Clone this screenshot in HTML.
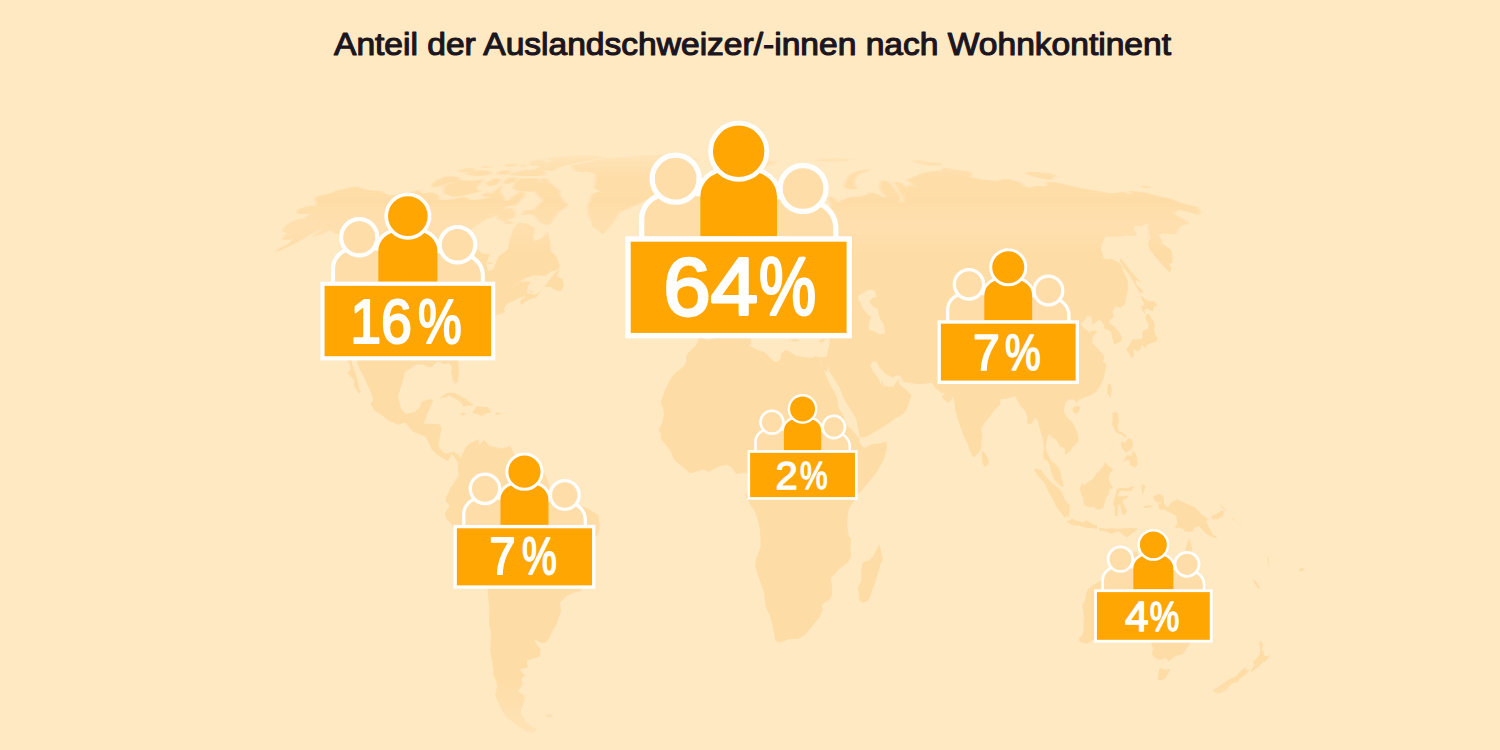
<!DOCTYPE html>
<html lang="de">
<head>
<meta charset="utf-8">
<title>Anteil der Auslandschweizer/-innen nach Wohnkontinent</title>
<style>
  html,body{margin:0;padding:0;}
  body{width:1500px;height:750px;overflow:hidden;background:#FFE9C3;font-family:"Liberation Sans",Arial,sans-serif;}
  svg{display:block;position:absolute;left:0;top:0;}
  .title{font-family:"Liberation Sans",Arial,sans-serif;font-size:30.5px;font-weight:400;fill:#1b1520;stroke:#1b1520;stroke-width:1.1px;stroke-linejoin:round;}
  .pct{font-family:"Liberation Sans",Arial,sans-serif;font-weight:400;fill:#fff;stroke:#fff;stroke-width:2.8px;stroke-linejoin:round;}
</style>
</head>
<body>
<svg width="1500" height="750" viewBox="0 0 1500 750">
  <defs>
    <g id="mapshape" fill="#FEDCA6">
    <path fill-rule="evenodd" d="M700.6,336.6L697.9,334.9L694.6,331.9L689.6,332.7L688.7,325.4L690.5,319.8L691.4,314.6L690.0,307.3L692.8,305.1L701.0,304.7L706.7,304.7L712.1,305.5L713.6,304.7L714.7,299.9L715.1,295.6L714.9,293.0L712.1,288.3L708.3,286.5L704.8,285.3L704.6,283.5L710.0,281.8L712.9,282.7L714.2,277.9L715.3,279.2L719.1,278.8L723.2,276.2L724.5,272.3L727.3,271.4L729.4,270.6L731.1,267.6L732.9,263.7L737.7,261.5L739.6,260.7L743.3,259.8L743.5,255.0L742.7,252.9L742.1,248.6L743.4,246.0L748.8,243.4L748.1,247.7L748.7,249.9L746.9,253.7L746.9,255.9L748.0,257.6L750.1,259.4L753.4,258.5L757.3,256.8L759.6,259.8L765.7,257.2L771.9,257.6L775.4,256.3L778.0,253.7L778.2,252.0L777.5,246.4L778.9,243.8L781.6,243.4L786.0,246.4L786.5,240.4L783.6,239.1L783.2,236.9L786.8,235.6L795.4,235.6L801.0,233.9L796.6,230.4L787.0,232.6L781.8,234.3L779.4,231.7L776.8,229.1L777.1,227.0L776.5,220.1L780.0,216.2L785.6,211.9L782.1,208.4L777.2,209.3L773.1,217.1L768.7,220.5L766.1,223.1L766.0,230.4L769.9,236.1L765.4,242.1L764.9,247.7L762.8,249.9L759.4,252.9L755.7,252.9L754.8,249.9L752.4,243.4L750.3,237.8L748.9,233.9L746.3,237.8L741.7,241.7L739.0,242.1L735.2,237.8L733.9,231.7L733.7,225.7L736.6,222.7L742.8,218.4L746.6,215.3L750.3,211.9L752.1,207.6L757.1,202.1L761.9,197.6L767.5,192.6L773.3,190.8L778.2,188.9L782.9,187.1L788.2,187.9L796.0,190.0L793.8,192.2L802.4,193.4L808.7,194.5L814.4,198.0L821.1,200.0L824.1,204.2L821.5,206.7L811.4,206.3L803.5,204.2L801.7,202.9L808.3,209.7L809.4,211.9L814.6,216.2L818.5,216.6L817.2,212.7L824.3,213.6L823.4,209.7L827.5,205.9L831.5,206.7L831.1,203.3L827.0,196.9L832.5,197.2L835.8,200.0L838.0,203.3L840.9,200.4L848.5,197.6L852.9,196.5L856.7,196.9L862.3,195.7L867.0,195.3L868.0,192.2L877.3,194.1L883.6,197.2L887.5,197.6L883.0,193.4L879.5,187.9L880.4,182.7L882.1,180.0L889.0,181.7L893.7,187.9L899.6,195.3L900.4,204.2L904.0,201.3L902.1,195.3L893.6,181.7L901.2,182.7L907.1,187.9L908.2,184.4L916.5,187.9L906.7,179.4L915.2,176.3L921.1,173.3L930.2,171.6L939.7,170.5L944.6,167.3L955.9,169.7L967.5,171.0L972.8,173.3L970.0,177.2L977.1,178.4L980.5,179.4L997.2,181.0L1003.9,179.1L1011.1,179.4L1021.0,182.7L1023.6,185.7L1031.5,188.6L1033.3,186.1L1040.4,186.1L1047.4,186.1L1045.7,181.7L1059.5,183.0L1074.1,186.8L1081.8,188.2L1105.5,192.6L1110.1,193.4L1123.6,191.9L1133.8,194.9L1128.8,191.1L1143.3,192.2L1156.6,195.7L1168.4,198.0L1181.6,203.3L1198.4,207.1L1201.0,214.0L1198.4,214.5L1190.5,212.7L1178.1,209.7L1175.5,211.9L1173.2,213.2L1185.2,220.5L1189.2,223.5L1180.2,225.7L1175.9,233.9L1164.0,233.5L1158.1,234.3L1161.8,239.9L1161.7,243.0L1171.2,249.9L1172.5,255.9L1172.2,262.8L1169.2,263.7L1171.6,268.9L1170.0,272.7L1163.1,265.8L1155.6,257.2L1149.1,248.6L1148.1,243.0L1150.5,237.8L1148.7,231.3L1148.2,226.6L1148.4,222.7L1141.2,226.1L1135.6,225.7L1133.3,227.0L1136.5,235.6L1125.2,235.6L1118.4,236.5L1111.6,236.5L1105.5,236.5L1102.5,242.1L1100.9,248.6L1103.5,257.2L1100.1,256.3L1106.3,259.4L1111.3,258.5L1119.0,262.4L1122.4,267.1L1122.6,270.1L1127.8,280.9L1127.9,290.4L1126.0,298.2L1124.8,304.7L1120.2,307.7L1116.2,306.4L1113.9,308.6L1112.4,312.0L1114.0,316.3L1109.4,320.6L1109.8,323.2L1114.1,326.3L1119.7,332.7L1121.6,337.0L1121.7,340.9L1118.7,342.2L1114.8,344.4L1113.4,342.2L1112.2,337.0L1110.3,331.0L1104.4,328.4L1104.2,325.4L1101.7,321.5L1099.2,319.8L1093.5,324.1L1092.4,324.5L1091.3,316.8L1087.3,315.9L1084.6,320.2L1080.6,324.1L1084.3,328.4L1086.1,329.3L1088.6,331.9L1094.0,330.6L1097.9,331.0L1093.0,336.6L1091.9,342.7L1097.0,347.8L1103.8,355.6L1104.3,358.6L1102.6,361.6L1106.3,363.4L1105.3,371.6L1103.2,380.2L1099.5,386.7L1096.0,391.9L1088.7,396.2L1081.9,398.3L1077.4,400.9L1077.1,404.8L1075.0,400.1L1072.7,399.6L1069.0,399.2L1065.6,402.6L1063.7,411.7L1066.7,416.9L1073.1,422.9L1077.6,432.9L1078.4,441.1L1074.8,445.4L1072.0,447.5L1070.6,451.0L1064.9,455.3L1065.1,449.3L1063.3,447.5L1059.9,446.7L1057.6,442.3L1056.1,439.8L1051.9,437.6L1048.9,434.1L1047.3,438.0L1045.7,447.1L1047.1,452.7L1049.3,456.2L1051.2,461.3L1053.6,462.6L1056.8,465.7L1059.9,469.5L1061.1,476.0L1062.6,481.2L1063.7,486.4L1061.7,486.8L1057.3,482.9L1054.2,479.5L1052.1,474.3L1050.6,469.1L1049.7,464.8L1047.5,460.9L1043.4,458.3L1043.1,453.6L1043.9,449.3L1043.2,440.6L1040.8,432.0L1039.2,426.4L1038.0,421.2L1035.3,417.7L1033.6,420.8L1030.7,424.2L1027.0,423.4L1027.3,416.9L1026.1,412.6L1020.6,405.7L1016.9,400.1L1015.7,396.2L1011.0,397.5L1006.9,398.8L1003.7,398.8L1000.5,399.6L1000.2,404.8L997.5,407.0L995.2,409.1L990.3,416.0L987.4,419.5L984.2,423.8L981.2,427.7L982.2,435.9L981.2,441.1L981.6,448.0L978.9,452.3L974.1,457.5L972.1,455.7L969.4,449.3L967.8,444.1L964.0,436.7L959.9,425.5L957.7,419.0L955.3,410.4L954.7,404.4L954.0,401.3L952.9,396.6L952.1,398.8L948.7,403.1L943.7,399.2L941.5,396.6L945.4,393.6L940.7,392.7L938.1,390.1L935.7,388.8L933.7,385.4L931.8,382.8L925.7,383.7L918.3,384.1L912.8,383.2L903.6,381.9L900.0,375.9L898.0,375.0L892.5,377.6L885.6,373.7L879.6,367.7L876.4,362.1L872.6,361.6L870.4,365.5L872.9,371.6L876.8,375.9L878.7,378.5L881.2,385.4L882.4,379.8L883.6,386.2L893.0,386.7L895.6,383.2L897.6,380.6L898.7,378.5L899.3,384.1L907.0,390.6L911.4,395.3L908.5,403.9L906.1,410.4L902.1,414.7L894.5,419.0L888.5,423.4L878.6,429.8L865.3,437.2L860.4,437.6L859.3,435.0L858.1,428.5L856.4,419.5L851.0,410.4L844.2,399.6L840.0,388.4L834.3,379.3L829.3,371.6L828.8,365.1L827.3,371.6L827.1,372.4L823.3,369.0L821.1,363.4L819.7,357.3L826.0,356.9L827.4,353.9L827.8,350.9L829.0,346.1L829.7,343.5L829.4,339.2L830.2,334.5L825.2,333.6L819.8,337.0L813.0,333.2L808.1,334.5L805.2,333.6L802.7,332.7L798.9,327.1L800.2,322.8L798.0,321.9L798.1,319.8L797.4,317.2L797.0,316.3L792.4,315.9L791.1,319.8L787.9,317.2L787.1,320.2L788.5,322.8L789.5,324.5L791.8,327.5L791.0,328.8L792.0,329.7L788.8,328.8L789.6,331.4L789.8,335.3L787.6,335.3L786.2,332.7L785.0,333.6L783.6,329.7L784.7,327.5L782.9,327.1L781.5,324.1L779.8,321.9L777.2,317.6L777.0,314.2L776.0,310.7L772.8,308.6L767.5,304.7L763.8,302.1L762.8,298.2L761.3,296.9L759.5,298.6L759.5,295.6L755.0,296.5L755.7,298.6L756.0,302.1L758.8,304.2L761.0,309.0L767.2,311.6L769.5,315.0L772.9,317.2L774.5,319.3L774.3,320.6L770.5,317.6L768.4,321.1L770.7,323.7L768.9,325.0L767.5,328.8L765.9,328.0L766.4,325.4L767.3,323.2L765.6,319.3L763.1,316.8L761.3,316.3L759.4,314.6L755.1,312.0L753.8,310.7L749.8,307.3L749.2,304.7L747.6,302.1L744.9,300.8L742.5,302.9L740.1,303.8L735.9,306.4L734.4,305.5L732.3,305.1L729.9,304.7L727.1,308.1L728.0,309.9L724.6,313.7L721.6,315.0L720.6,316.8L717.8,319.8L716.9,321.9L718.3,325.4L716.1,327.1L714.8,330.1L710.7,334.0L703.8,334.0ZM806.3,314.6L801.3,309.0L802.3,306.0L804.3,301.7L806.9,297.3L809.4,291.7L813.4,293.0L818.2,293.5L815.3,296.9L818.6,299.9L820.7,300.8L824.1,298.2L827.2,296.9L822.3,293.0L827.3,290.9L829.2,289.1L833.2,288.7L831.8,290.9L831.3,293.9L830.2,296.9L831.4,299.5L835.6,302.1L837.7,304.2L841.9,306.8L844.5,310.7L844.5,312.9L839.0,315.5L835.1,315.9L828.5,314.2L824.9,311.1L820.6,311.1L814.7,313.3L810.3,314.6ZM861.0,293.9L866.4,290.9L870.6,289.6L875.2,290.9L876.4,296.9L871.5,298.2L871.0,299.9L869.1,301.2L872.6,306.0L877.9,309.0L878.8,314.2L880.3,319.8L883.3,323.2L885.0,330.6L885.1,333.2L879.4,334.5L873.6,331.0L869.5,330.6L868.7,326.7L869.3,322.4L870.9,318.5L872.0,317.6L868.9,315.5L864.6,310.7L861.6,306.8L860.9,302.5L858.3,299.5L858.4,296.0Z"/>
    <path d="M297.3,209.3L310.9,205.4L315.2,207.1L316.4,202.9L314.6,198.0L319.2,195.7L330.2,193.4L337.1,190.4L355.8,186.4L363.2,188.6L369.0,190.4L381.1,191.1L383.5,193.0L392.4,195.7L399.9,193.4L414.1,191.5L419.0,189.3L421.5,193.4L432.3,192.2L438.8,195.3L439.1,200.0L451.8,199.6L458.1,198.0L465.2,196.9L471.1,200.0L481.5,199.2L487.4,198.0L494.0,191.5L502.7,184.7L500.2,192.6L503.5,196.1L504.6,201.3L509.1,200.0L518.5,192.2L525.4,192.6L523.8,197.2L515.5,205.4L506.0,206.7L500.2,214.0L495.0,216.2L486.2,219.2L478.9,223.5L471.5,229.1L465.4,238.6L465.8,246.4L474.9,247.3L482.8,253.7L489.9,254.6L486.2,263.7L488.0,271.0L492.6,270.1L495.8,263.7L498.2,256.8L507.8,249.4L510.0,239.9L512.7,230.0L518.5,222.7L527.2,223.5L535.1,229.1L532.6,237.8L535.2,241.2L541.8,238.2L547.8,232.2L549.8,242.1L550.7,250.7L556.9,257.2L559.8,265.8L558.5,270.1L551.0,271.4L545.4,275.8L533.9,275.3L524.1,278.8L514.7,285.3L508.6,290.4L520.2,281.8L531.2,281.4L527.7,286.1L527.1,293.0L535.5,294.7L541.1,290.4L536.3,297.3L528.2,299.9L520.5,305.1L520.5,300.4L526.2,296.0L518.2,298.2L512.8,301.2L506.8,304.2L504.0,309.0L505.3,312.0L500.2,313.7L491.7,317.2L490.4,321.9L486.5,325.0L481.4,332.7L481.1,340.5L475.7,343.1L471.9,346.1L464.7,351.3L460.6,354.3L458.2,360.8L458.9,369.8L458.1,381.1L455.0,384.1L452.8,380.2L451.3,372.4L452.0,367.3L449.1,362.9L444.0,364.2L439.2,361.6L436.5,362.1L431.6,367.3L427.5,366.8L423.2,364.7L417.5,364.2L413.9,366.0L404.8,372.4L403.1,380.2L397.9,396.6L401.4,409.5L406.0,413.9L414.4,412.1L420.1,407.0L421.2,401.8L429.5,399.2L432.6,399.6L433.0,401.3L429.7,408.3L426.3,416.9L423.8,423.8L432.7,423.8L439.3,424.2L441.6,427.7L439.6,438.5L438.4,444.9L440.4,449.3L445.1,453.6L450.2,452.7L453.6,451.4L458.7,454.9L458.8,458.7L456.5,460.0L451.8,454.0L448.1,460.9L440.6,457.0L438.4,455.7L431.5,449.3L426.4,437.2L420.1,434.6L413.7,432.0L411.3,429.4L404.9,422.5L398.0,424.7L387.4,419.9L381.2,414.7L376.1,411.7L374.1,410.0L370.8,404.4L373.0,399.2L370.8,392.3L367.2,384.5L364.1,377.2L360.7,371.6L357.2,362.9L357.2,357.8L353.4,355.6L351.8,362.9L354.9,371.6L357.5,380.2L359.0,388.0L360.7,392.3L359.1,393.6L353.9,386.2L354.3,380.2L349.9,375.9L347.3,372.4L351.1,369.0L348.2,361.2L347.2,355.2L346.8,351.3L344.6,345.7L339.1,343.5L338.1,334.5L338.3,329.3L337.2,318.1L343.0,306.8L350.6,293.0L353.7,283.5L359.2,285.3L360.3,279.6L356.9,276.6L352.3,272.3L353.5,263.7L353.6,258.1L354.1,250.7L355.1,242.1L349.4,240.8L345.0,235.6L335.3,233.5L330.4,230.0L319.4,234.8L311.3,236.9L324.1,228.3L315.9,231.3L307.1,236.5L293.3,244.3L281.5,249.9L273.7,252.5L280.2,248.1L287.8,244.3L293.9,239.1L289.5,239.5L281.4,239.5L287.2,233.5L282.7,231.3L284.5,227.0L290.3,222.7L296.2,219.7L305.3,218.4L310.0,214.0L304.9,214.0L298.7,214.0L296.9,213.2ZM357.5,283.5L353.8,281.8L351.2,278.8L349.1,273.6L352.9,273.6L356.3,276.6L358.3,280.1ZM544.2,287.0L550.3,278.8L555.6,272.3L560.1,269.7L556.7,276.6L561.9,278.8L563.7,283.1L563.5,287.4L560.2,291.3L554.6,290.0L550.9,287.0ZM439.8,397.9L446.7,393.1L454.9,392.7L465.4,398.8L473.7,405.2L462.7,406.5L461.6,403.1L455.6,398.8L449.5,395.7L442.6,398.3ZM472.1,413.0L476.5,406.5L487.2,407.0L491.9,412.1L486.5,413.4L481.3,416.0L476.6,413.9ZM459.3,413.4L464.0,412.6L466.0,414.7L462.3,415.6ZM495.8,412.6L500.7,413.0L500.2,414.7L495.6,414.7ZM568.6,205.0L558.6,211.9L551.1,222.7L547.4,225.3L540.7,222.7L535.7,217.1L532.1,214.0L521.4,214.9L525.1,210.6L534.4,209.7L538.0,205.4L543.3,200.4L541.1,198.0L538.0,195.3L534.6,191.5L526.3,191.5L521.5,191.5L517.6,190.4L512.6,187.9L515.1,182.7L520.5,178.4L530.7,178.4L539.4,178.8L537.0,182.7L546.5,181.0L548.2,181.7L555.5,187.1L560.2,190.8L559.8,195.3L563.8,201.3ZM444.5,185.7L459.7,180.0L471.0,181.0L484.3,179.4L476.1,187.9L480.9,191.5L468.5,194.5L454.3,196.9L444.8,194.1L443.5,190.8ZM431.9,183.7L432.3,187.5L440.6,186.1L450.6,182.7L459.7,180.0L459.0,177.2L451.4,176.3L443.7,176.9L435.8,180.4ZM554.1,171.0L548.2,170.5L530.6,170.8L540.5,166.5L542.1,164.1L551.7,160.7L545.7,158.6L561.3,156.7L582.6,155.6L600.7,156.1L605.0,157.1L600.7,158.6L587.9,160.7L576.7,162.9L566.3,165.3L557.9,167.8ZM547.2,173.3L540.0,176.0L517.7,176.0L512.0,173.3L525.5,169.7L541.8,170.5ZM541.3,166.0L531.1,165.8L528.8,162.2L538.5,159.2L544.9,160.0L545.0,162.9ZM490.2,174.8L477.1,176.3L464.5,174.2L472.5,170.5L486.0,170.2L492.1,171.9ZM497.2,184.4L488.1,186.4L486.3,182.7L494.9,178.1L501.4,179.4ZM514.9,181.7L505.4,184.4L503.7,181.0L509.2,177.5L517.8,177.8ZM508.7,174.2L499.1,174.8L495.7,172.4L505.8,169.9L511.8,171.0ZM472.3,171.3L462.4,172.7L457.4,170.5L468.6,167.8L475.7,168.6ZM490.8,195.3L484.4,197.2L481.8,194.5L488.9,191.9ZM515.1,217.1L504.7,221.8L496.6,217.9L504.1,209.7L511.7,207.6L515.0,212.7ZM602.7,234.3L598.4,230.0L592.7,227.0L590.5,218.4L588.5,215.3L587.9,205.4L590.6,199.2L592.2,193.4L600.3,191.5L593.9,187.9L595.7,181.0L595.6,174.8L590.3,171.9L579.3,171.9L574.5,170.2L572.8,167.8L570.9,165.8L584.9,162.9L593.9,160.7L607.5,158.0L628.7,156.7L649.7,155.1L665.1,154.7L677.4,155.8L685.9,157.6L701.2,158.2L689.8,161.8L683.8,166.5L684.5,170.5L678.7,174.8L678.5,179.4L671.8,182.7L670.0,189.7L664.7,191.5L658.5,196.9L648.1,199.2L639.6,203.3L628.2,208.4L619.5,211.9L614.4,220.5L607.9,229.1ZM659.3,209.7L666.5,205.4L676.3,206.3L685.1,206.3L686.8,211.9L682.5,215.3L673.0,218.8L663.0,217.1L664.8,214.0L660.1,212.3L665.6,210.2ZM458.7,454.9L460.6,457.9L465.5,447.5L467.9,444.9L470.0,443.6L478.7,438.9L478.9,444.9L484.2,439.8L489.4,446.2L493.7,446.7L501.9,448.4L510.4,446.2L514.9,455.7L522.3,463.1L532.8,466.9L541.7,471.3L545.3,474.3L549.2,484.6L549.2,492.4L554.2,496.7L562.5,497.6L568.3,503.2L577.6,504.9L587.7,508.4L598.4,514.9L600.0,527.4L598.2,533.4L593.4,539.9L588.8,548.5L587.5,557.1L587.5,568.8L584.7,580.0L582.9,587.4L580.1,591.7L576.1,591.7L566.5,596.0L560.0,602.5L561.1,611.5L558.6,617.6L556.9,624.0L552.2,631.4L549.2,637.9L545.3,643.0L541.2,643.0L533.6,639.1L539.0,647.8L540.8,649.1L539.7,656.4L526.8,660.7L527.7,667.6L519.6,669.4L525.5,675.8L521.8,678.0L522.6,684.5L517.9,690.9L524.5,696.1L525.0,698.7L522.7,706.0L520.8,709.1L521.4,715.1L524.2,718.1L526.2,722.0L533.1,727.6L537.0,728.5L533.1,733.7L526.0,731.1L518.7,726.8L512.6,722.0L505.8,716.8L500.8,708.2L497.1,699.6L495.0,694.4L497.3,686.6L495.9,680.1L493.4,675.8L493.6,672.4L492.6,664.2L490.2,651.2L491.2,634.8L489.0,621.9L489.3,608.9L488.0,594.3L486.8,579.6L485.6,572.3L481.2,567.1L474.1,562.8L468.2,558.9L463.9,552.4L460.6,544.2L456.4,535.6L454.8,531.7L451.1,523.5L445.8,518.3L445.0,512.7L449.2,507.1L448.1,503.2L445.7,501.9L446.0,496.7L449.0,492.0L450.0,488.1L453.1,484.6L458.6,476.0L457.8,468.7L458.3,463.1L456.7,461.3ZM544.6,716.0L548.2,713.8L553.5,715.1L551.0,718.1ZM515.3,166.5L506.0,167.0L504.2,165.0L514.9,163.1L517.5,164.6ZM525.8,166.5L518.0,166.8L521.6,164.6L527.5,164.8ZM515.0,175.4L508.7,175.1L512.4,173.0L517.5,173.3ZM489.9,167.8L480.9,168.1L483.6,166.0L491.9,166.0ZM549.1,180.7L538.2,181.3L542.0,178.4L548.5,178.8ZM512.9,223.5L504.8,224.0L506.5,220.9L512.7,221.4ZM492.2,264.1L487.3,263.7L488.7,262.4L492.2,262.8ZM539.0,280.5L531.9,277.1L535.5,279.6ZM534.8,292.2L528.6,290.0L530.2,292.6ZM699.0,337.9L700.9,337.5L708.0,340.1L715.6,338.3L726.9,333.6L736.2,332.7L741.8,333.2L748.0,331.4L751.7,332.3L749.6,335.3L750.6,337.9L751.3,342.7L749.1,346.1L751.9,347.0L758.9,350.4L765.3,352.6L769.9,357.8L774.4,361.6L777.6,361.6L780.7,358.6L780.8,353.9L785.1,350.4L788.6,350.9L793.2,353.9L797.1,356.0L803.5,356.9L812.1,357.8L815.5,356.0L819.7,357.3L820.7,362.9L824.4,371.6L825.6,375.0L830.0,384.5L832.9,389.3L837.2,397.5L838.4,407.8L843.0,414.7L846.7,425.1L851.8,429.8L857.7,436.3L859.8,438.5L859.6,442.3L862.4,447.1L865.7,447.5L872.2,444.1L878.8,443.6L886.4,441.5L887.0,447.5L884.3,457.9L881.1,464.4L876.3,473.0L867.3,483.8L861.4,491.1L858.0,494.1L853.0,502.3L848.6,509.7L847.1,521.8L847.6,529.1L849.1,536.9L851.0,538.6L850.4,548.5L851.2,555.0L850.8,557.1L848.2,562.3L838.0,570.1L835.6,573.5L830.8,577.9L831.8,585.2L831.9,595.6L830.1,599.0L822.0,604.6L822.6,611.1L819.8,616.7L816.0,621.5L805.3,634.8L798.2,639.1L789.7,639.1L780.1,642.6L775.2,640.4L774.1,633.5L772.7,626.2L769.8,615.8L765.8,607.2L763.8,591.7L760.0,580.9L755.3,567.1L756.3,558.0L760.7,546.8L760.1,530.4L757.2,518.3L755.5,513.1L752.8,508.4L745.2,495.4L747.5,490.7L748.5,483.8L748.8,478.2L747.8,475.1L745.8,473.0L743.8,472.6L736.2,473.9L732.8,468.7L727.5,464.8L724.2,465.2L720.2,466.1L715.5,468.2L709.1,472.1L702.8,469.5L696.1,471.7L690.5,473.4L680.2,465.2L674.6,460.0L672.3,455.7L670.7,451.4L666.4,445.8L663.2,441.5L660.6,438.5L661.0,434.6L658.5,429.0L662.0,423.4L663.9,414.3L663.1,408.3L660.7,402.2L664.7,391.0L670.0,379.8L675.1,372.9L681.8,368.1L684.4,365.5L686.5,361.2L686.0,356.5L688.1,353.0L693.4,347.4L695.9,345.7L698.0,340.5ZM879.7,544.2L882.1,557.1L883.0,559.3L880.5,563.6L878.8,570.5L875.0,583.0L871.0,593.8L868.9,600.3L862.5,602.9L859.2,600.3L858.7,593.4L857.8,587.4L861.5,580.0L860.9,572.3L862.8,562.3L869.1,560.2L873.3,556.3L876.2,550.2L878.0,546.4ZM702.4,276.2L707.0,271.4L710.4,270.6L704.5,269.3L707.5,266.3L705.9,264.5L706.3,262.4L710.8,261.9L711.2,258.9L709.4,257.2L710.3,255.5L705.7,256.8L706.5,252.9L703.4,253.7L704.2,249.4L702.7,247.7L704.0,244.3L706.5,239.5L711.6,239.5L711.6,240.4L708.4,244.3L714.4,243.4L714.1,246.0L711.7,249.0L712.5,249.4L710.8,250.7L714.1,251.6L715.6,255.0L719.1,258.9L719.6,261.1L720.1,264.1L724.0,265.0L723.7,268.0L721.6,270.1L723.1,270.6L722.7,271.9L721.9,272.7L719.5,273.6L715.8,273.2L712.0,274.5L708.5,275.8L703.8,276.6ZM690.9,270.6L695.4,268.9L700.9,267.1L702.0,262.4L704.0,257.6L703.5,256.3L702.8,254.2L699.0,253.3L696.4,254.6L695.6,257.2L691.3,258.1L690.5,261.5L693.8,262.8L691.0,265.4L689.4,267.6ZM756.0,328.4L759.1,327.5L765.9,327.1L764.5,334.0L762.0,333.2L756.4,330.1ZM742.9,315.9L746.0,314.6L747.8,317.6L747.3,323.2L745.1,324.5L743.6,322.8ZM744.1,309.4L746.5,306.8L746.8,311.1L746.0,313.7L744.4,312.4ZM791.0,340.1L795.0,339.2L799.7,340.5L795.7,341.8L791.3,340.9ZM818.6,341.4L820.7,339.6L825.6,338.3L823.6,341.4L820.9,343.1ZM753.6,169.1L746.8,164.1L752.6,161.8L764.5,160.7L778.8,161.3L773.6,164.1L767.8,165.8L764.0,167.8L760.2,170.2ZM850.0,189.3L858.1,188.9L854.8,184.4L854.4,179.4L858.4,174.8L865.1,171.9L871.7,169.4L870.4,169.1L863.3,169.7L854.2,171.9L849.5,174.8L847.1,178.4L845.9,182.7L843.2,186.1L846.2,188.6ZM920.4,164.1L929.5,166.0L941.7,165.8L941.2,162.9L927.0,161.8L917.3,159.6L910.1,161.3ZM1025.9,174.2L1038.3,177.8L1050.7,180.0L1056.7,175.4L1048.7,173.3L1035.2,171.9L1026.5,171.9ZM814.6,160.5L825.6,161.8L841.5,161.3L854.2,160.0L842.2,158.2L826.9,158.6ZM1141.5,187.1L1146.7,188.2L1150.8,187.1L1145.0,185.7L1140.9,186.1ZM1132.6,358.6L1133.9,354.7L1133.4,349.1L1137.6,351.3L1140.6,349.1L1141.3,346.5L1141.9,344.8L1145.4,348.3L1147.4,344.4L1151.0,343.1L1153.2,343.1L1155.9,341.8L1157.7,338.3L1154.8,333.6L1153.8,327.5L1155.2,327.1L1153.9,321.5L1150.9,317.6L1148.8,313.7L1145.6,314.6L1145.5,317.2L1146.3,320.2L1148.5,324.5L1147.9,328.8L1143.3,330.6L1142.2,332.3L1142.7,334.5L1142.4,338.3L1137.1,339.2L1132.5,339.6L1130.0,343.9L1129.0,345.7L1128.0,347.4L1126.1,348.3L1127.4,351.3L1129.6,353.9L1130.5,356.9ZM1145.5,312.0L1144.5,313.7L1142.0,310.3L1141.2,305.5L1144.2,305.5L1143.8,302.9L1140.7,296.5L1141.0,296.0L1148.0,300.8L1154.0,301.2L1157.7,305.5L1154.2,306.8L1152.9,311.6L1146.6,308.6L1145.4,309.9L1143.4,309.4ZM1119.7,257.6L1125.3,263.7L1129.8,270.1L1134.8,275.8L1141.7,282.7L1135.4,280.1L1137.0,285.3L1142.7,290.4L1144.3,293.9L1141.1,291.3L1140.4,294.3L1137.7,289.6L1133.0,280.9L1128.0,272.7L1123.8,268.0L1120.1,261.5ZM1110.0,383.2L1111.7,386.2L1111.5,393.1L1110.5,397.9L1107.3,393.1L1107.4,387.5L1108.3,384.1ZM1078.2,405.7L1080.2,407.8L1078.8,411.7L1076.2,413.9L1073.3,412.1L1072.5,409.1L1074.4,406.5ZM981.8,450.1L985.3,453.6L988.9,460.0L988.4,464.4L984.8,466.9L982.3,463.1L981.8,457.9ZM1033.9,468.2L1041.3,470.0L1044.1,474.3L1045.4,476.0L1051.3,482.5L1054.6,485.1L1060.0,489.4L1062.7,493.7L1065.0,500.2L1069.9,505.4L1069.2,517.4L1067.2,516.1L1064.8,517.9L1062.0,514.0L1057.5,508.8L1051.3,496.7L1046.6,488.1L1046.0,485.1L1040.5,478.6L1036.7,474.7ZM1066.6,521.8L1072.1,518.7L1078.0,521.3L1083.9,522.2L1086.0,520.0L1091.5,523.5L1097.1,525.6L1097.2,528.7L1092.2,528.2L1085.6,527.8L1079.1,525.6L1074.1,525.6L1070.5,523.9ZM1098.9,527.8L1105.5,528.7L1112.2,528.2L1118.8,528.7L1125.5,528.2L1130.5,527.8L1138.8,528.7L1131.8,533.4L1128.2,536.4L1126.4,537.3L1118.6,531.3L1111.8,533.8L1105.3,531.3L1099.4,530.4ZM1082.0,483.3L1084.7,485.1L1088.0,482.1L1093.2,478.6L1096.4,473.4L1099.7,470.8L1103.1,466.5L1105.2,462.2L1109.8,466.9L1113.6,469.5L1109.5,474.3L1108.6,478.2L1110.0,482.9L1113.4,488.1L1109.4,489.0L1108.4,494.6L1106.1,498.0L1104.3,504.5L1103.2,507.9L1098.5,510.1L1093.2,506.7L1089.2,507.5L1083.9,504.9L1083.4,498.9L1080.7,492.4L1080.0,488.1ZM1116.8,489.4L1120.1,487.7L1126.8,488.5L1133.1,485.9L1134.1,486.4L1131.8,490.7L1126.8,491.1L1120.1,490.7L1117.4,496.3L1121.8,496.3L1127.8,495.4L1128.1,497.2L1122.4,500.6L1124.3,506.2L1127.1,511.0L1124.6,515.7L1122.0,512.7L1120.0,504.5L1118.0,505.4L1117.6,516.1L1114.6,516.1L1114.9,507.5L1113.0,504.1L1114.4,498.0L1116.1,492.4ZM1141.7,483.8L1145.8,485.9L1143.5,492.4L1142.5,495.9L1141.5,489.0ZM1143.3,506.2L1150.0,504.9L1152.6,507.1L1148.3,507.5L1143.9,507.9ZM1153.5,495.9L1158.5,494.1L1163.5,495.9L1164.1,503.2L1166.6,506.7L1168.3,506.7L1171.8,501.9L1176.8,499.3L1185.8,503.2L1195.3,507.5L1202.3,514.9L1208.7,519.6L1205.9,521.3L1208.8,526.9L1213.1,534.7L1217.5,536.9L1214.4,538.2L1205.6,533.4L1198.9,526.1L1193.7,528.2L1192.4,531.7L1185.1,531.7L1183.3,529.1L1178.8,527.4L1174.4,528.7L1177.5,523.5L1176.2,516.1L1169.8,512.3L1163.2,509.2L1159.8,510.1L1157.7,504.9L1161.7,503.2L1156.7,501.9L1153.5,498.9ZM1210.6,516.6L1216.4,514.0L1221.5,510.5L1224.2,511.0L1222.9,516.1L1217.7,519.2L1212.7,519.2ZM1219.5,503.6L1225.0,508.8L1226.4,512.7L1224.6,509.7L1220.1,505.4ZM1231.9,516.1L1235.9,521.8L1242.1,526.9L1249.7,533.8L1252.7,536.9L1248.2,532.5L1239.0,524.8L1232.7,519.2ZM1253.4,579.2L1257.3,583.0L1260.7,588.7L1258.4,588.7L1254.0,583.0ZM1299.5,568.4L1303.6,567.9L1303.2,571.0L1299.3,571.0ZM1266.8,555.9L1268.4,558.0L1269.8,568.8L1268.3,563.6ZM1112.5,412.6L1117.7,412.6L1119.0,421.2L1117.7,425.5L1118.4,431.1L1122.5,432.4L1126.9,436.3L1125.4,437.2L1120.0,433.7L1116.7,433.3L1114.9,429.8L1111.9,424.2L1112.7,420.8L1112.5,416.9ZM1120.9,441.5L1125.0,442.8L1128.2,438.5L1132.3,439.8L1133.2,444.9L1131.6,449.3L1128.4,451.0L1126.2,452.7L1123.3,449.7L1121.4,446.7ZM1122.9,462.6L1126.7,455.3L1131.1,455.7L1133.3,450.1L1136.8,455.7L1137.7,464.4L1134.2,468.2L1133.5,466.5L1129.4,465.2L1129.8,460.9L1126.7,460.0ZM1106.2,456.2L1110.1,451.0L1113.0,445.8L1113.5,443.6L1111.5,448.0L1108.0,453.6ZM1189.4,538.6L1191.8,546.4L1191.7,554.1L1195.9,559.3L1196.5,565.3L1197.8,575.7L1202.1,578.7L1203.9,583.5L1207.4,590.8L1206.6,593.8L1210.2,599.4L1212.9,600.3L1209.5,610.7L1209.1,615.8L1204.9,623.2L1196.6,634.4L1193.4,638.7L1189.7,643.9L1182.7,654.3L1175.7,656.0L1168.5,661.2L1165.4,657.7L1159.9,660.3L1155.0,658.1L1151.7,654.3L1153.4,647.8L1151.6,646.1L1151.5,643.0L1151.0,640.0L1146.3,644.3L1149.8,639.1L1153.0,632.7L1148.7,637.9L1143.3,643.0L1141.9,639.1L1140.9,634.8L1140.6,630.9L1132.9,628.4L1126.0,629.2L1116.0,631.8L1108.7,634.8L1100.9,638.7L1094.7,639.1L1086.6,643.9L1078.8,640.9L1079.7,637.0L1081.8,636.1L1083.8,630.5L1083.5,623.2L1083.9,616.7L1083.4,612.0L1082.1,605.1L1085.2,599.9L1086.1,593.8L1088.7,586.5L1088.8,589.5L1092.2,585.6L1098.4,581.7L1104.6,580.0L1113.0,576.6L1118.1,570.1L1121.4,563.2L1123.1,567.1L1125.0,563.2L1127.3,558.4L1130.1,555.0L1136.2,551.5L1138.7,555.0L1139.6,558.0L1141.1,556.7L1144.4,556.7L1145.3,552.4L1147.5,548.5L1149.8,545.9L1152.1,545.5L1155.9,544.6L1154.0,540.7L1159.0,543.3L1163.8,545.1L1170.0,545.5L1168.2,549.8L1165.9,552.0L1165.2,556.7L1163.6,556.3L1166.6,560.6L1172.5,564.9L1175.6,567.9L1179.6,567.9L1182.7,561.5L1184.3,555.0L1186.1,546.8L1187.8,541.2ZM1160.0,668.1L1164.7,669.8L1170.6,668.9L1168.2,673.7L1164.6,678.9L1160.1,680.6L1157.9,680.1L1158.1,675.0L1159.0,670.2ZM1259.7,640.9L1260.6,640.9L1262.8,644.3L1262.3,647.8L1261.5,651.2L1264.0,649.9L1263.7,654.7L1265.9,656.4L1270.6,655.1L1266.7,659.4L1265.2,661.6L1261.4,662.9L1261.8,663.3L1257.2,668.1L1251.2,671.9L1250.5,670.7L1253.4,667.2L1254.6,664.6L1252.3,662.0L1254.0,660.7L1257.9,656.8L1259.5,653.8L1260.2,649.5L1259.6,645.6L1259.4,643.5ZM1246.7,667.2L1246.1,670.2L1249.7,669.4L1247.9,672.4L1244.3,675.4L1239.2,679.3L1238.7,681.4L1232.2,683.6L1228.8,687.1L1225.7,690.5L1221.6,692.7L1216.5,693.5L1215.3,691.8L1212.6,691.8L1212.9,690.5L1220.6,684.9L1224.6,682.3L1231.2,678.4L1235.3,676.7L1236.7,675.4L1239.4,672.4L1243.5,668.5Z"/>
    </g>
    <filter id="fSoft" x="-5%" y="-5%" width="110%" height="110%"><feGaussianBlur stdDeviation="0.7"/></filter>
    <filter id="fSmear" x="-5%" y="-5%" width="110%" height="110%"><feGaussianBlur stdDeviation="1.6 0.6"/></filter>
    <linearGradient id="gCrisp" gradientUnits="userSpaceOnUse" x1="0" y1="0" x2="0" y2="750">
      <stop offset="0.27" stop-color="#000"/><stop offset="0.335" stop-color="#fff"/>
      <stop offset="0.905" stop-color="#fff"/><stop offset="0.985" stop-color="#555"/>
    </linearGradient>
    <linearGradient id="gNorth" gradientUnits="userSpaceOnUse" x1="0" y1="0" x2="0" y2="750">
      <stop offset="0.2" stop-color="#3a3a3a"/><stop offset="0.238" stop-color="#eee"/><stop offset="0.27" stop-color="#fff"/>
      <stop offset="0.335" stop-color="#000"/>
    </linearGradient>
    <mask id="mCrisp" maskUnits="userSpaceOnUse" x="0" y="0" width="1500" height="750"><rect width="1500" height="750" fill="url(#gCrisp)"/></mask>
    <mask id="mNorth" maskUnits="userSpaceOnUse" x="0" y="0" width="1500" height="750"><rect width="1500" height="750" fill="url(#gNorth)"/></mask>
    <!-- badge artwork: origin = top centre of the box, drawn at the size of the 64% badge -->
    <g id="badge">
      <path d="M-97,0 V-17 A25,25 0 0 1 -72,-42 H-38 V0 Z" fill="#FEDDA8"/>
      <path d="M-97,2 V-17 A25,25 0 0 1 -72,-42 H-52" fill="none" stroke="#fff" stroke-width="5.3"/>
      <path d="M97.2,0 V-8 A27,27 0 0 0 70.2,-35 H38 V0 Z" fill="#FEDDA8"/>
      <path d="M97.2,2 V-8 A27,27 0 0 0 70.2,-35 H52" fill="none" stroke="#fff" stroke-width="5.3"/>
      <path d="M-38.3,-44 V-40 A27,25 0 0 1 -11.3,-65 H11.3 A27,25 0 0 1 38.3,-40 V-37" fill="none" stroke="#fff" stroke-width="9.5"/>
      <path d="M-38.3,0 V-40 A27,25 0 0 1 -11.3,-65 H11.3 A27,25 0 0 1 38.3,-40 V0 Z" fill="#FFA602"/>
      <circle cx="-63" cy="-57.6" r="23.5" fill="#FEDDA8" stroke="#fff" stroke-width="5.3"/>
      <circle cx="64.4" cy="-47.8" r="23" fill="#FEDDA8" stroke="#fff" stroke-width="5.3"/>
      <circle cx="0" cy="-85" r="28.1" fill="#FFA602" stroke="#fff" stroke-width="4.8"/>
      <rect x="-110.65" y="2.7" width="221.3" height="96.6" fill="#FFA602" stroke="#fff" stroke-width="5.4"/>
    </g>
  </defs>

  <!-- world map: crisp layer for mid/low latitudes, smeared + faded layer for the far north -->
  <g mask="url(#mCrisp)"><use href="#mapshape" filter="url(#fSoft)"/></g>
  <g mask="url(#mNorth)"><use href="#mapshape" filter="url(#fSmear)"/></g>

  <text class="title" x="752.5" y="55.2" text-anchor="middle" textLength="837" lengthAdjust="spacingAndGlyphs">Anteil der Auslandschweizer/-innen nach Wohnkontinent</text>

  <g transform="translate(738.65,236.3) scale(1.0)">
    <use href="#badge"/>
    <text class="pct" y="79.0" font-size="81.5"><tspan x="-75.53" textLength="94.96" lengthAdjust="spacingAndGlyphs">64</tspan><tspan x="20.48" textLength="57.09" lengthAdjust="spacingAndGlyphs">%</tspan></text>
  </g>
  <g transform="translate(407.85,281.7) scale(0.7715)">
    <use href="#badge"/>
    <text class="pct" y="79.0" font-size="81.5"><tspan x="-74.74" textLength="80.05" lengthAdjust="spacingAndGlyphs">16</tspan><tspan x="13.10" textLength="56.63" lengthAdjust="spacingAndGlyphs">%</tspan></text>
  </g>
  <g transform="translate(1008.25,320.3) scale(0.624)">
    <use href="#badge"/>
    <text class="pct" y="79.0" font-size="81.5"><tspan x="-56.53" textLength="42.92" lengthAdjust="spacingAndGlyphs">7</tspan><tspan x="-5.07" textLength="57.21" lengthAdjust="spacingAndGlyphs">%</tspan></text>
  </g>
  <g transform="translate(802.55,450.2) scale(0.4857)">
    <use href="#badge"/>
    <text class="pct" y="79.0" font-size="81.5"><tspan x="-55.60" textLength="45.78" lengthAdjust="spacingAndGlyphs">2</tspan><tspan x="-5.26" textLength="56.85" lengthAdjust="spacingAndGlyphs">%</tspan></text>
  </g>
  <g transform="translate(524.45,524.9) scale(0.626)">
    <use href="#badge"/>
    <text class="pct" y="79.0" font-size="81.5"><tspan x="-56.06" textLength="42.18" lengthAdjust="spacingAndGlyphs">7</tspan><tspan x="-3.91" textLength="55.65" lengthAdjust="spacingAndGlyphs">%</tspan></text>
  </g>
  <g transform="translate(1153.35,589.3) scale(0.5227)">
    <use href="#badge"/>
    <text class="pct" y="79.0" font-size="81.5"><tspan x="-54.07" textLength="45.29" lengthAdjust="spacingAndGlyphs">4</tspan><tspan x="-7.05" textLength="56.54" lengthAdjust="spacingAndGlyphs">%</tspan></text>
  </g>
</svg>
</body>
</html>
